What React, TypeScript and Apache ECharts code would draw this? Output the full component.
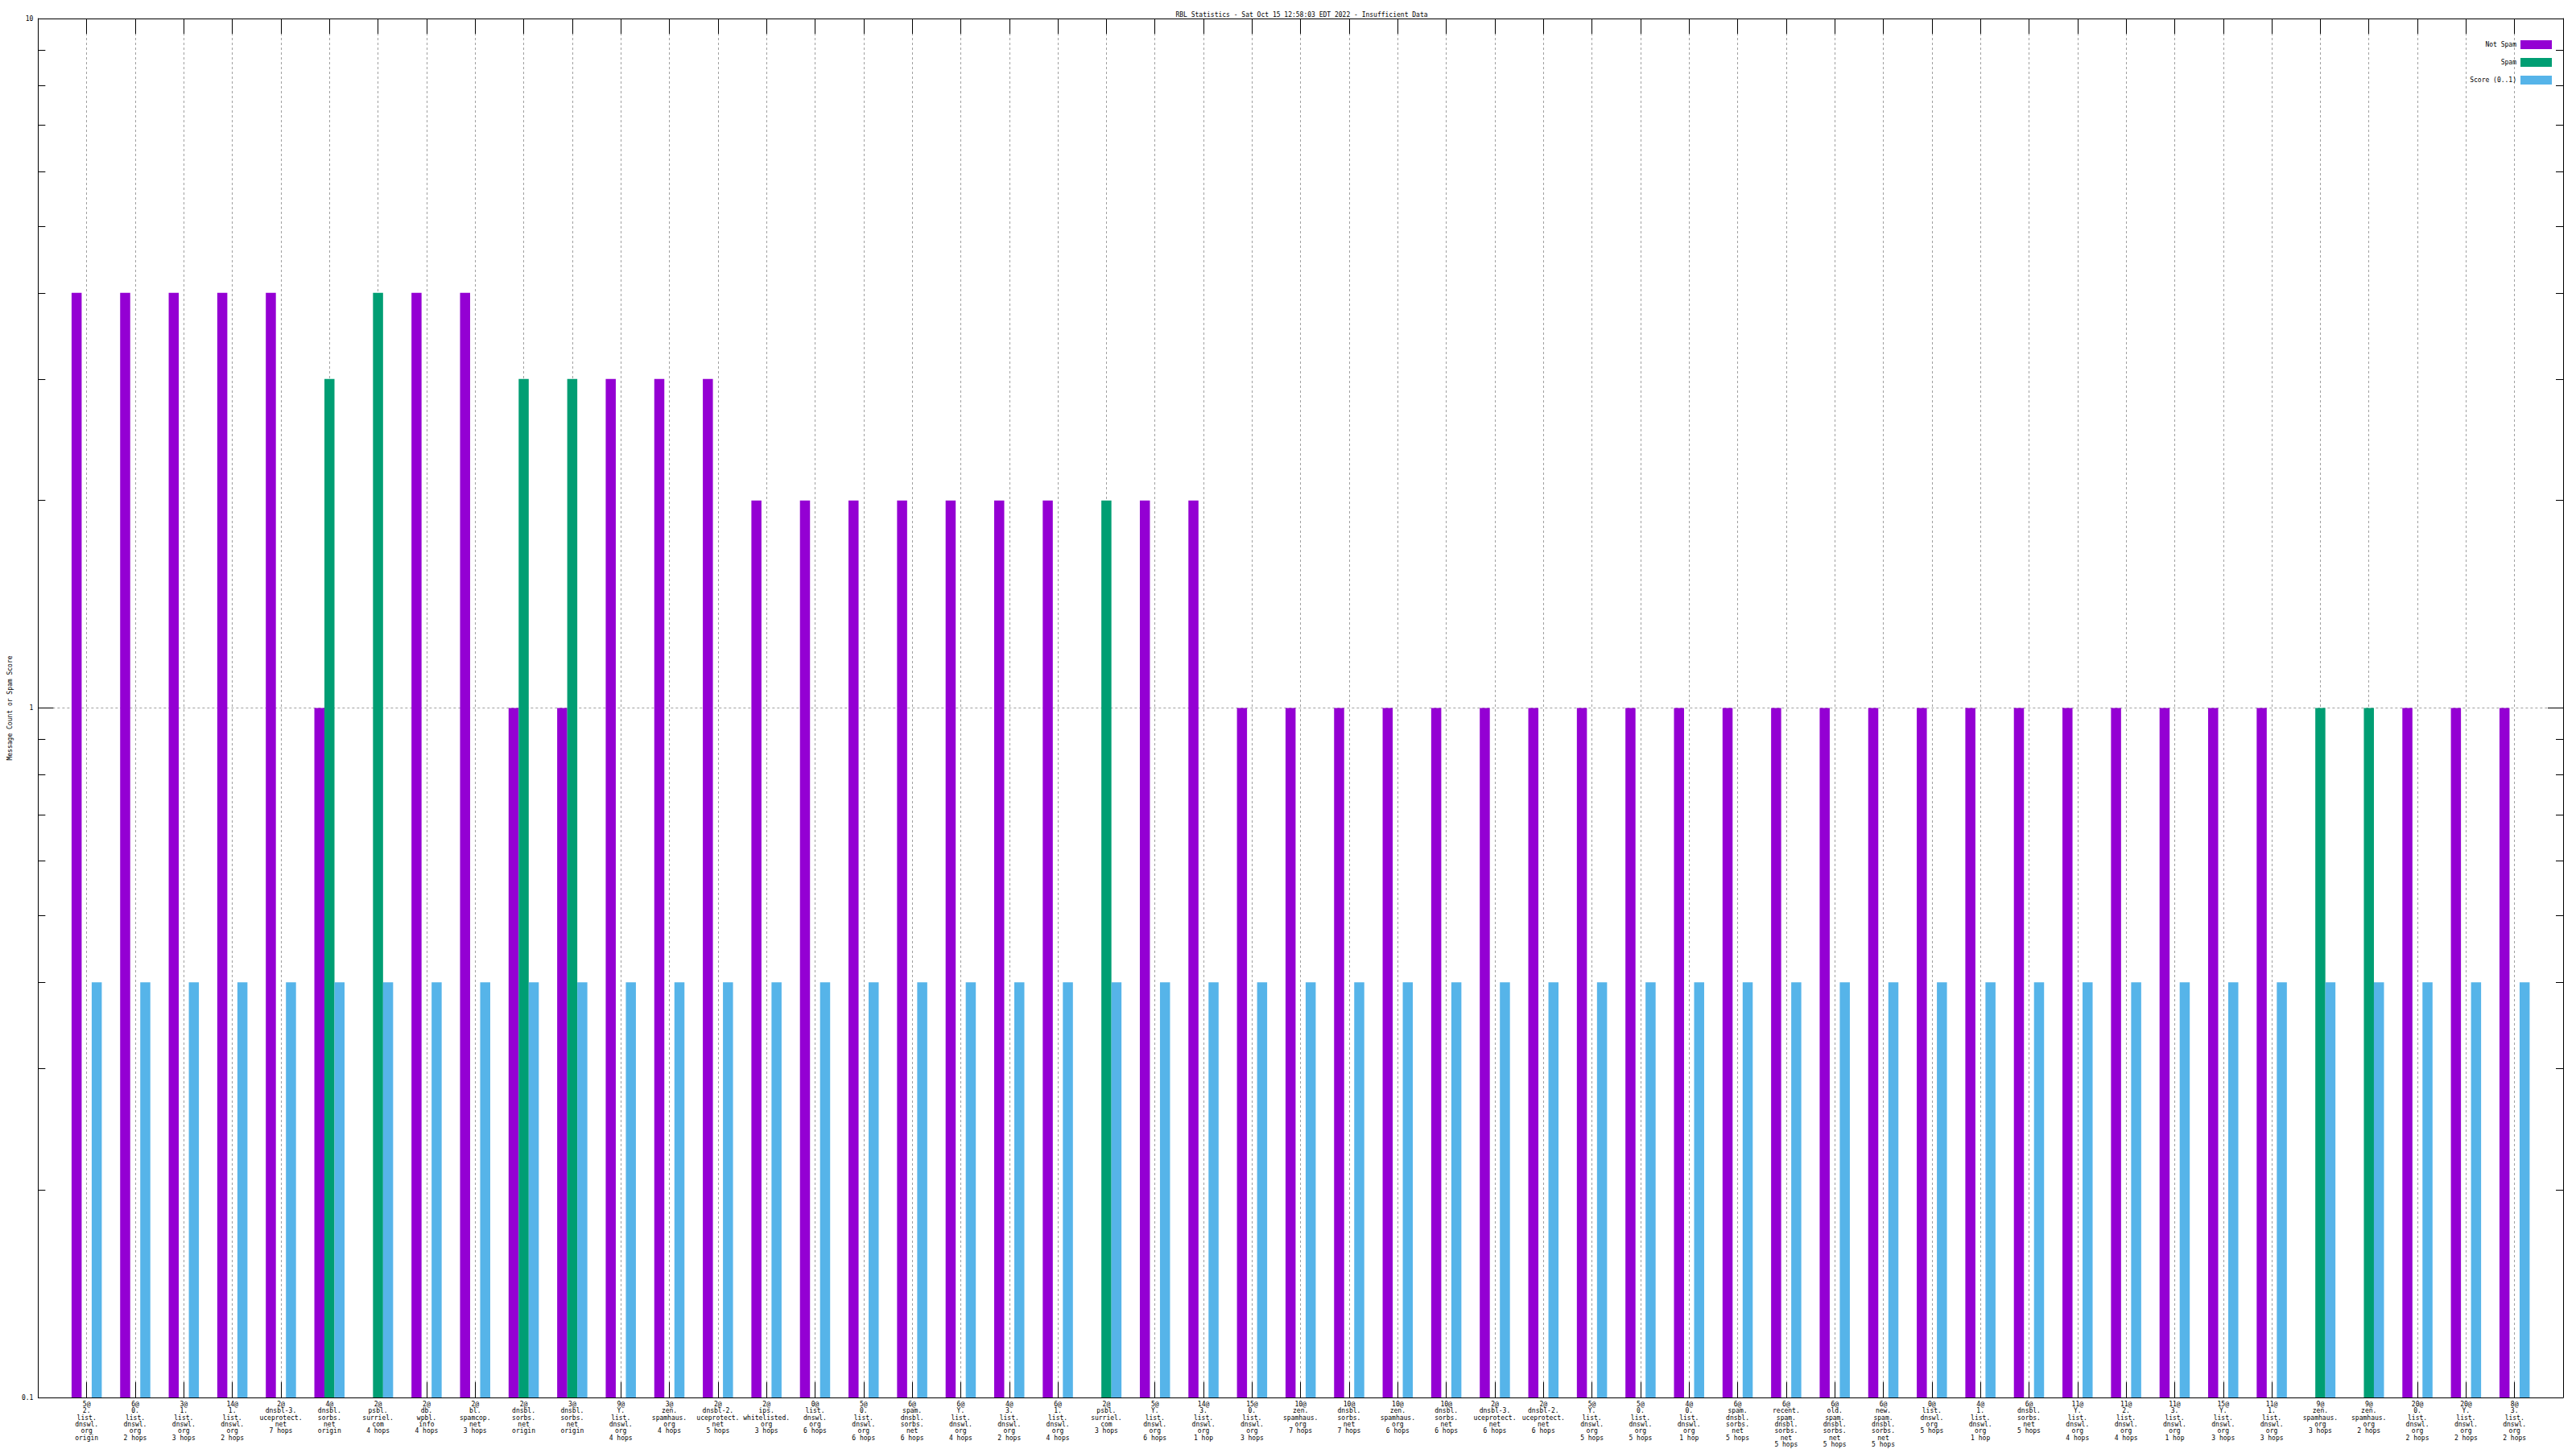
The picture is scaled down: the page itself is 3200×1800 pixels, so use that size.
import React, { useEffect, useRef } from "react";
import * as echarts from "echarts";

const chartTitle = "RBL Statistics - Sat Oct 15 12:58:03 EDT 2022 - Insufficient Data";
const yAxisTitle = "Message Count or Spam Score";
const seriesNames = ["Not Spam", "Spam", "Score (0..1)"];
const seriesColors = ["#9400d3", "#009e73", "#56b4e9"];

const categories = [
  "5@\n2.\nlist.\ndnswl.\norg\norigin",
  "6@\n0.\nlist.\ndnswl.\norg\n2 hops",
  "3@\n1.\nlist.\ndnswl.\norg\n3 hops",
  "14@\n1.\nlist.\ndnswl.\norg\n2 hops",
  "2@\ndnsbl-3.\nuceprotect.\nnet\n7 hops",
  "4@\ndnsbl.\nsorbs.\nnet\norigin",
  "2@\npsbl.\nsurriel.\ncom\n4 hops",
  "2@\ndb.\nwpbl.\ninfo\n4 hops",
  "2@\nbl.\nspamcop.\nnet\n3 hops",
  "2@\ndnsbl.\nsorbs.\nnet\norigin",
  "3@\ndnsbl.\nsorbs.\nnet\norigin",
  "9@\nY.\nlist.\ndnswl.\norg\n4 hops",
  "3@\nzen.\nspamhaus.\norg\n4 hops",
  "2@\ndnsbl-2.\nuceprotect.\nnet\n5 hops",
  "2@\nips.\nwhitelisted.\norg\n3 hops",
  "0@\nlist.\ndnswl.\norg\n6 hops",
  "5@\n0.\nlist.\ndnswl.\norg\n6 hops",
  "6@\nspam.\ndnsbl.\nsorbs.\nnet\n6 hops",
  "6@\nY.\nlist.\ndnswl.\norg\n4 hops",
  "4@\n3.\nlist.\ndnswl.\norg\n2 hops",
  "6@\n1.\nlist.\ndnswl.\norg\n4 hops",
  "2@\npsbl.\nsurriel.\ncom\n3 hops",
  "5@\nY.\nlist.\ndnswl.\norg\n6 hops",
  "14@\n3.\nlist.\ndnswl.\norg\n1 hop",
  "15@\n0.\nlist.\ndnswl.\norg\n3 hops",
  "10@\nzen.\nspamhaus.\norg\n7 hops",
  "10@\ndnsbl.\nsorbs.\nnet\n7 hops",
  "10@\nzen.\nspamhaus.\norg\n6 hops",
  "10@\ndnsbl.\nsorbs.\nnet\n6 hops",
  "2@\ndnsbl-3.\nuceprotect.\nnet\n6 hops",
  "2@\ndnsbl-2.\nuceprotect.\nnet\n6 hops",
  "5@\nY.\nlist.\ndnswl.\norg\n5 hops",
  "5@\n0.\nlist.\ndnswl.\norg\n5 hops",
  "4@\n0.\nlist.\ndnswl.\norg\n1 hop",
  "6@\nspam.\ndnsbl.\nsorbs.\nnet\n5 hops",
  "6@\nrecent.\nspam.\ndnsbl.\nsorbs.\nnet\n5 hops",
  "6@\nold.\nspam.\ndnsbl.\nsorbs.\nnet\n5 hops",
  "6@\nnew.\nspam.\ndnsbl.\nsorbs.\nnet\n5 hops",
  "0@\nlist.\ndnswl.\norg\n5 hops",
  "4@\n1.\nlist.\ndnswl.\norg\n1 hop",
  "6@\ndnsbl.\nsorbs.\nnet\n5 hops",
  "11@\nY.\nlist.\ndnswl.\norg\n4 hops",
  "11@\n2.\nlist.\ndnswl.\norg\n4 hops",
  "11@\n3.\nlist.\ndnswl.\norg\n1 hop",
  "15@\nY.\nlist.\ndnswl.\norg\n3 hops",
  "11@\n1.\nlist.\ndnswl.\norg\n3 hops",
  "9@\nzen.\nspamhaus.\norg\n3 hops",
  "9@\nzen.\nspamhaus.\norg\n2 hops",
  "20@\n0.\nlist.\ndnswl.\norg\n2 hops",
  "20@\nY.\nlist.\ndnswl.\norg\n2 hops",
  "8@\n3.\nlist.\ndnswl.\norg\n2 hops",
];

const notSpam = [
  4, 4, 4, 4, 4, 1, 0, 4, 4, 1,
  1, 3, 3, 3, 2, 2, 2, 2, 2, 2,
  2, 0, 2, 2, 1, 1, 1, 1, 1, 1,
  1, 1, 1, 1, 1, 1, 1, 1, 1, 1,
  1, 1, 1, 1, 1, 1, 0, 0, 1, 1,
  1,
];
const spam = [
  0, 0, 0, 0, 0, 3, 4, 0, 0, 3,
  3, 0, 0, 0, 0, 0, 0, 0, 0, 0,
  0, 2, 0, 0, 0, 0, 0, 0, 0, 0,
  0, 0, 0, 0, 0, 0, 0, 0, 0, 0,
  0, 0, 0, 0, 0, 0, 1, 1, 0, 0,
  0,
];
const score = [
  0.4, 0.4, 0.4, 0.4, 0.4, 0.4, 0.4, 0.4, 0.4, 0.4,
  0.4, 0.4, 0.4, 0.4, 0.4, 0.4, 0.4, 0.4, 0.4, 0.4,
  0.4, 0.4, 0.4, 0.4, 0.4, 0.4, 0.4, 0.4, 0.4, 0.4,
  0.4, 0.4, 0.4, 0.4, 0.4, 0.4, 0.4, 0.4, 0.4, 0.4,
  0.4, 0.4, 0.4, 0.4, 0.4, 0.4, 0.4, 0.4, 0.4, 0.4,
  0.4,
];
const yMinorTicks = [0.2, 0.3, 0.4, 0.5, 0.6, 0.7, 0.8, 0.9, 2, 3, 4, 5, 6, 7, 8, 9];

const FONT = "'DejaVu Sans Mono', 'Liberation Mono', monospace";
const GRID_COLOR = "#a0a0a0";

function toPairs(values: number[]) {
  return values.map((v, i) => [i, v > 0 ? v : null]);
}

export default function App() {
  const ref = useRef<HTMLDivElement>(null);

  useEffect(() => {
    if (!ref.current) return;
    const chart = echarts.init(ref.current, null, { renderer: "svg" });
    const minorLog = yMinorTicks.map((v) => Math.log10(v));
    const lastIdx = categories.length;

    const axisLineStyle = { show: true, onZero: false, lineStyle: { color: "#000", width: 1 } };

    const xBase = {
      type: "value",
      min: -1,
      max: lastIdx,
      interval: 1,
      axisLine: axisLineStyle,
      axisTick: { show: true, inside: true, length: 19, lineStyle: { color: "#000", width: 1 } },
    };

    const yMajorBase = {
      type: "log",
      logBase: 10,
      min: 0.1,
      max: 10,
      startValue: 0.1,
      axisLine: axisLineStyle,
      axisTick: { show: true, inside: true, length: 19, lineStyle: { color: "#000", width: 1 } },
    };
    const yMinorBase = {
      type: "value",
      min: -1,
      max: 1,
      axisLine: { show: false, onZero: false },
      axisLabel: { show: false },
      splitLine: { show: false },
      axisTick: {
        show: true,
        inside: true,
        length: 9,
        customValues: minorLog,
        lineStyle: { color: "#000", width: 1 },
      },
    };

    const option: any = {
      animation: false,
      backgroundColor: "#fff",
      title: {
        text: chartTitle,
        left: 1612,
        top: 9,
        textAlign: "center",
        textStyle: { fontFamily: FONT, fontSize: 8, fontWeight: "normal", color: "#000" },
      },
      legend: {
        orient: "vertical",
        right: 25,
        top: 45,
        align: "right",
        icon: "rect",
        itemWidth: 39,
        itemHeight: 11,
        itemGap: 11,
        data: seriesNames,
        textStyle: { fontFamily: FONT, fontSize: 8, color: "#000" },
      },
      grid: { left: 40, right: 16, top: 23, bottom: 64, containLabel: false },
      xAxis: [
        {
          ...xBase,
          position: "bottom",
          axisLabel: {
            show: true,
            margin: 4,
            fontFamily: FONT,
            fontSize: 8,
            lineHeight: 8.4,
            color: "#000",
            align: "center",
            verticalAlign: "top",
            formatter: (v: number) => (v >= 0 && v < lastIdx ? categories[v] : ""),
          },
          splitLine: { show: true, lineStyle: { color: GRID_COLOR, type: [3, 3], width: 1 } },
        },
        {
          ...xBase,
          position: "top",
          axisLabel: { show: false },
          splitLine: { show: false },
        },
      ],
      yAxis: [
        {
          ...yMajorBase,
          position: "left",
          name: yAxisTitle,
          nameLocation: "middle",
          nameRotate: 90,
          nameGap: 29,
          nameTextStyle: { fontFamily: FONT, fontSize: 8, color: "#000" },
          axisLabel: {
            show: true,
            margin: 6,
            fontFamily: FONT,
            fontSize: 8,
            color: "#000",
            formatter: (v: number) => String(v),
          },
          splitLine: { show: true, lineStyle: { color: GRID_COLOR, type: [3, 3], width: 1 } },
        },
        { ...yMinorBase, position: "left" },
        {
          ...yMajorBase,
          position: "right",
          axisLabel: { show: false },
          splitLine: { show: false },
        },
        { ...yMinorBase, position: "right" },
      ],
      series: [
        {
          name: seriesNames[0],
          type: "bar",
          xAxisIndex: 0,
          yAxisIndex: 0,
          barWidth: 12.5,
          barGap: "0%",
          itemStyle: { color: seriesColors[0] },
          data: toPairs(notSpam),
        },
        {
          name: seriesNames[1],
          type: "bar",
          xAxisIndex: 0,
          yAxisIndex: 0,
          barWidth: 12.5,
          barGap: "0%",
          itemStyle: { color: seriesColors[1] },
          data: toPairs(spam),
        },
        {
          name: seriesNames[2],
          type: "bar",
          xAxisIndex: 0,
          yAxisIndex: 0,
          barWidth: 12.5,
          barGap: "0%",
          itemStyle: { color: seriesColors[2] },
          data: toPairs(score),
        },
      ],
    };

    chart.setOption(option);
    return () => chart.dispose();
  }, []);

  return (
    <div
      ref={ref}
      style={{ position: "fixed", left: 0, top: 0, width: 3200, height: 1800, background: "#fff" }}
    />
  );
}
